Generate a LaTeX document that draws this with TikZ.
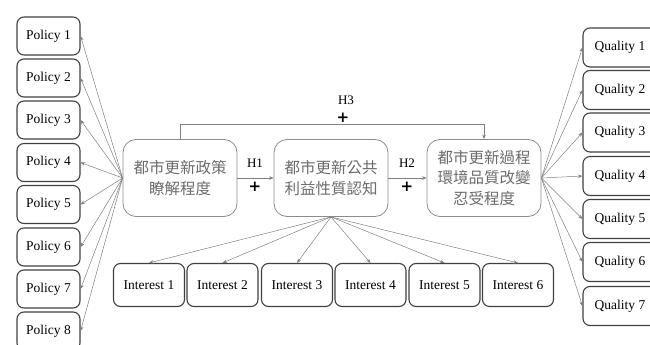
\documentclass[tikz,border=0pt]{standalone}
\usepackage{fontspec}
\setmainfont{Liberation Serif}
\newfontfamily\cjk{Noto Sans CJK TC}
\newfontfamily\signfont{DejaVu Sans}
\usetikzlibrary{arrows.meta}
\begin{document}
\begin{tikzpicture}[x=1pt,y=-1pt,
  item/.style={draw=black!75, line width=1.1pt, rounded corners=7pt,
    minimum width=63pt, minimum height=38pt, inner sep=0pt,
    font=\fontsize{13.5}{15}\selectfont},
  construct/.style={draw=black!45, line width=0.8pt, rounded corners=13pt,
    minimum width=114pt, minimum height=77pt, align=center, inner sep=0pt,
    text=black!58, font=\cjk\fontsize{15.5}{20.5}\selectfont},
  link/.style={draw=black!50, line width=0.5pt, -{Stealth[length=4.5pt,width=3.5pt]}},
  tag/.style={font=\fontsize{13}{15}\selectfont},
  sign/.style={font=\signfont\bfseries\fontsize{15}{15}\selectfont}
]
\useasboundingbox (0,0) rectangle (650,345);
\clip (0,0) rectangle (650,345);

% central constructs
\node[construct] (b1) at (180,178) {都市更新政策\\瞭解程度};
\node[construct] (b2) at (331,178) {都市更新公共\\利益性質認知};
\node[construct] (b3) at (484,178) {都市更新過程\\環境品質改變\\忍受程度};

% policy indicators
\foreach \i/\y in {1/36,2/78,3/120,4/162.5,5/204.5,6/247,7/289,8/331}
  \node[item] (p\i) at (48.5,\y) {Policy \i};

% quality indicators
\foreach \i/\y in {1/47.5,2/90,3/132.5,4/176,5/219,6/262,7/306}
  \node[item, minimum width=74pt, minimum height=39pt] (q\i) at (620,\y) {Quality \i};

% interest indicators
\foreach \i/\x in {1/149,2/222.5,3/297,4/370.5,5/444.5,6/518}
  \node[item, minimum width=71pt, minimum height=43pt] (n\i) at (\x,285) {Interest \i};

% measurement links
\foreach \i in {1,...,8}
  \draw[link] (b1.west) -- (p\i.east);
\foreach \i in {1,...,7}
  \draw[link] (b3.east) -- (q\i.west);
\foreach \i in {1,...,6}
  \draw[link] (b2.south) -- (n\i.north);

% hypotheses
\draw[link] (b1) -- (b2);
\draw[link] (b2) -- (b3);
\draw[link] (b1.north) -- ++(0,-15) -| (b3.north);

\node[tag] (h1) at (255,163) {H1};
\node[sign] (s1) at (255,187) {+};
\node[tag] (h2) at (407,163) {H2};
\node[sign] (s2) at (407,187) {+};
\node[tag] (h3) at (346,100) {H3};
\node[sign] (s3) at (343,118) {+};
\end{tikzpicture}
\end{document}
